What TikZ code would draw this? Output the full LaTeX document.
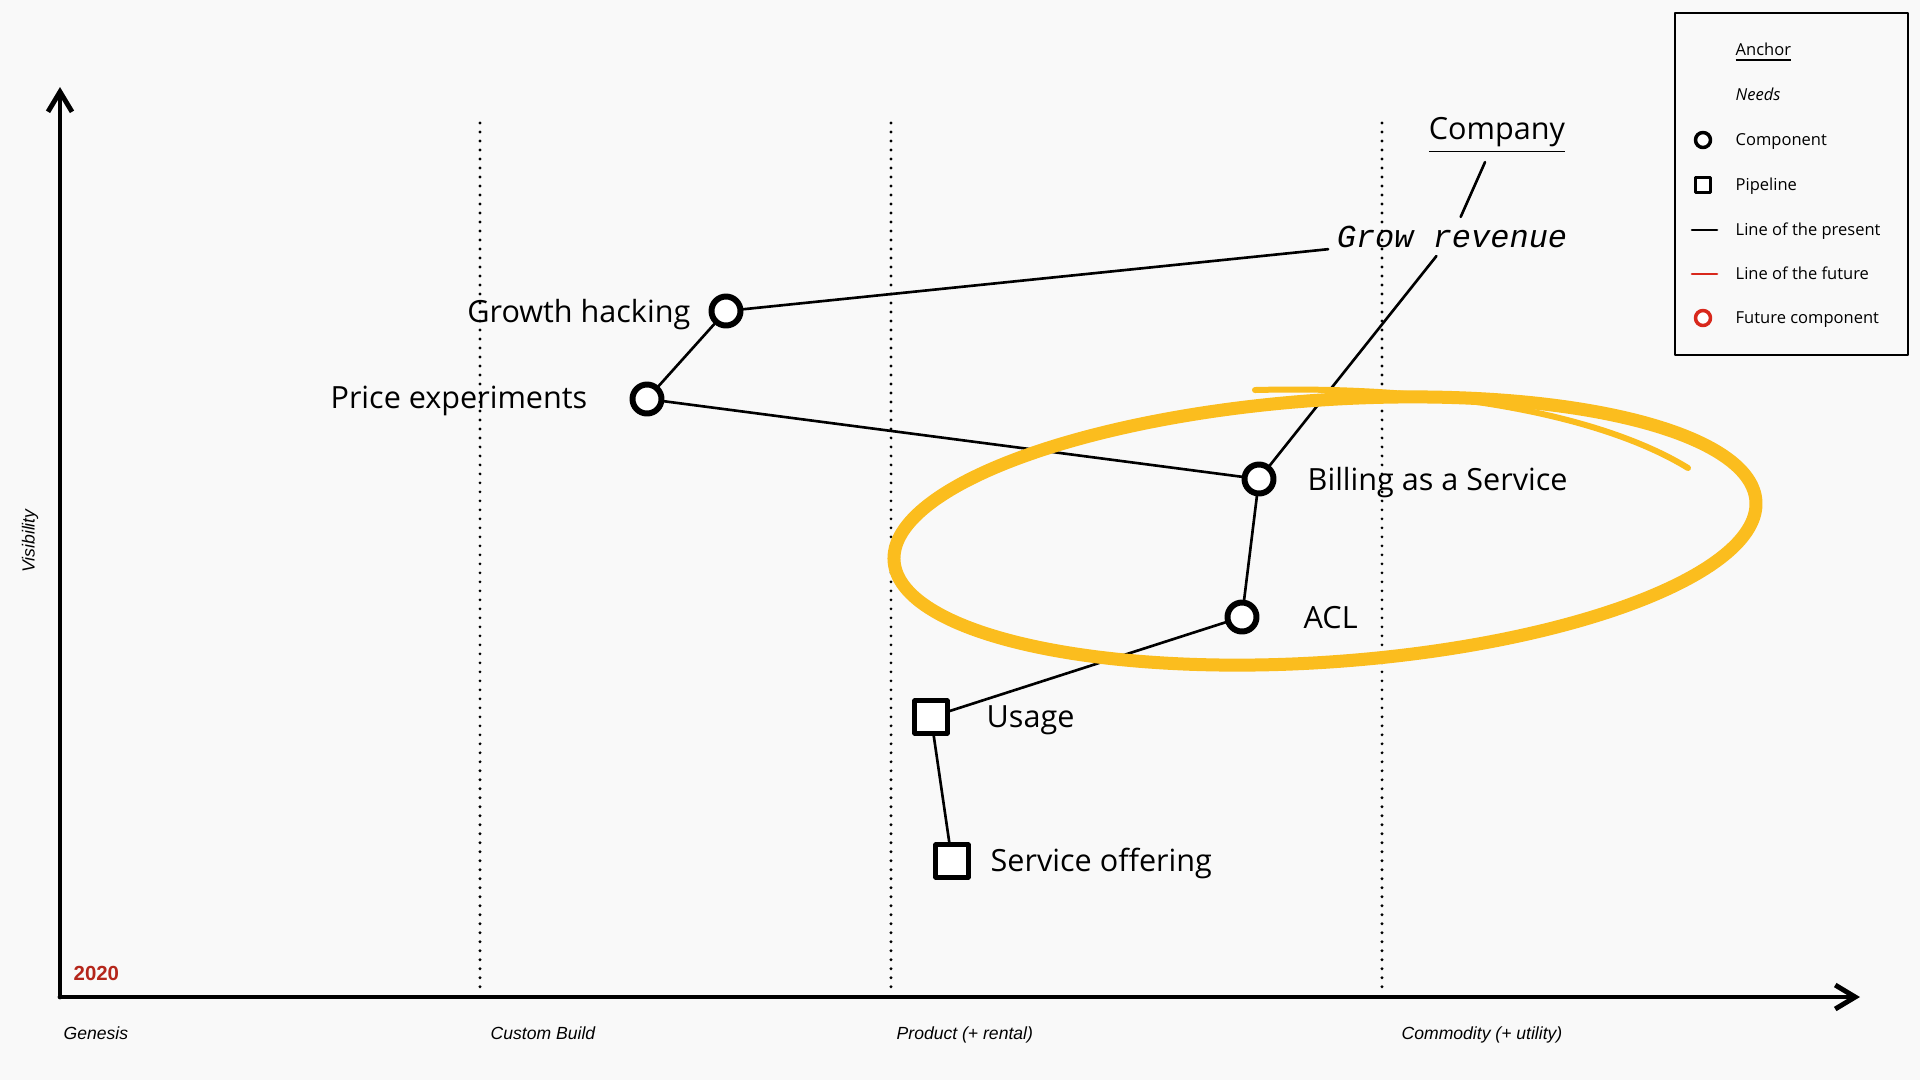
\documentclass[tikz,border=0pt]{standalone}
\usepackage{fontspec}
\setmainfont{Open Sans}
\newfontfamily\axisfont{Liberation Sans}
\newfontfamily\needfont{Liberation Mono}
\usetikzlibrary{arrows.meta}

\definecolor{paper}{HTML}{F9F9F9}
\definecolor{marker}{HTML}{FBBD1E}
\definecolor{future}{HTML}{D8281C}
\definecolor{yearred}{HTML}{B5261B}

\begin{document}
\begin{tikzpicture}[x=0.1mm,y=-0.1mm,line cap=round,line join=round,
  comp/.style={circle,draw,line width=1.7pt,fill=white,minimum size=2.9mm,inner sep=0pt},
  pipe/.style={rectangle,draw,line width=1.3pt,fill=white,minimum size=3.25mm,inner sep=0pt},
  complbl/.style={font=\fontsize{8.7}{10}\selectfont,inner sep=0pt},
  evo/.style={font=\axisfont\itshape\fontsize{5}{6}\selectfont,inner sep=0pt,anchor=base west},
  keytext/.style={font=\fontsize{4.7}{6}\selectfont,inner sep=0pt,anchor=base west},
  link/.style={line width=0.75pt},
  stage/.style={line width=0.9pt,dash pattern=on 0pt off 2.56pt},
  axis/.style={line width=1.4pt,-{Straight Barb[length=2mm,width=2.4mm,line width=1.4pt]}}]
  \fill[paper] (0,0) rectangle (1920,1080);
  \useasboundingbox (0,0) rectangle (1920,1080);

  \foreach \sx in {480,891,1382}
    \draw[stage] (\sx,123) -- (\sx,992);

  \coordinate (origin) at (60,997);
  \draw[axis] (origin) -- (60,87);
  \draw[axis] (origin) -- (1860,997);
  \node[evo] (genesis) at (63,1039) {Genesis};
  \node[evo] (custom) at (490,1039) {Custom Build};
  \node[evo] (product) at (896,1039) {Product (+ rental)};
  \node[evo] (commodity) at (1401,1039) {Commodity (+ utility)};
  \node[font=\axisfont\itshape\fontsize{5}{6}\selectfont,rotate=90,inner sep=0pt] (visibility) at (30,541) {Visibility};
  \node[font=\axisfont\bfseries\fontsize{5.8}{7}\selectfont,text=yearred,inner sep=0pt,anchor=base west] (year) at (73,980) {2020};

  \node[complbl,anchor=base,inner sep=0.8mm] (company) at (1497,139) {\underline{Company}};
  \node[font=\needfont\itshape\fontsize{9.1}{11}\selectfont,anchor=base,inner sep=0.8mm] (revenue) at (1452,247) {Grow revenue};

  \node[comp] (growth) at (726,311) {};
  \node[comp] (price) at (647,399) {};
  \node[comp] (billing) at (1259,479) {};
  \node[comp] (acl) at (1242,617) {};
  \node[pipe] (usage) at (931,717) {};
  \node[pipe] (offering) at (952,861) {};
  \node[complbl,anchor=base east] (growthlbl) at (691,322) {Growth hacking};
  \node[complbl,anchor=base east] (pricelbl) at (588,408) {Price experiments};
  \node[complbl,anchor=base west] (billinglbl) at (1307,490) {Billing as a Service};
  \node[complbl,anchor=base west] (acllbl) at (1303,628) {ACL};
  \node[complbl,anchor=base west] (usagelbl) at (986,727) {Usage};
  \node[complbl,anchor=base west] (offeringlbl) at (990,871) {Service offering};

  \draw[link] (company) -- (revenue);
  \draw[link] (revenue) -- (growth);
  \draw[link] (revenue) -- (billing);
  \draw[link] (growth) -- (price);
  \draw[link] (price) -- (billing);
  \draw[link] (billing) -- (acl);
  \draw[link] (acl) -- (usage);
  \draw[link] (usage) -- (offering);

  \draw[marker,line width=1.3mm]
    plot[domain=0:360,samples=160,variable=\t,smooth]
      ({1325 + 432*cos(\t)*cos(-4) - 131*sin(\t)*sin(-4)}, {531 + 432*cos(\t)*sin(-4) + 131*sin(\t)*cos(-4)}) -- cycle;
  \draw[marker,line width=0.6mm] (1255,390) .. controls (1460,385) and (1610,420) .. (1688,468);

  \draw[line width=0.75pt] (1675,13) rectangle (1908,355);
  \node[keytext] (keyanchor) at (1735,55) {\underline{Anchor}};
  \node[keytext] (keyneeds) at (1735,100) {\itshape Needs};
  \node[keytext] (keycomp) at (1735,145) {Component};
  \node[keytext] (keypipe) at (1735,190) {Pipeline};
  \node[keytext] (keypresent) at (1735,235) {Line of the present};
  \node[keytext] (keyfuture) at (1735,279) {Line of the future};
  \node[keytext] (keyfcomp) at (1735,323) {Future component};
  \node[comp,line width=1pt,minimum size=1.5mm] (keycircle) at (1703,140) {};
  \node[pipe,line width=1.1pt,minimum size=1.5mm] (keysquare) at (1703,185) {};
  \draw[link] (1692,230) -- (1717,230);
  \draw[link,future] (1692,274) -- (1717,274);
  \node[comp,draw=future,line width=1pt,minimum size=1.5mm] (keyred) at (1703,318) {};
\end{tikzpicture}
\end{document}
